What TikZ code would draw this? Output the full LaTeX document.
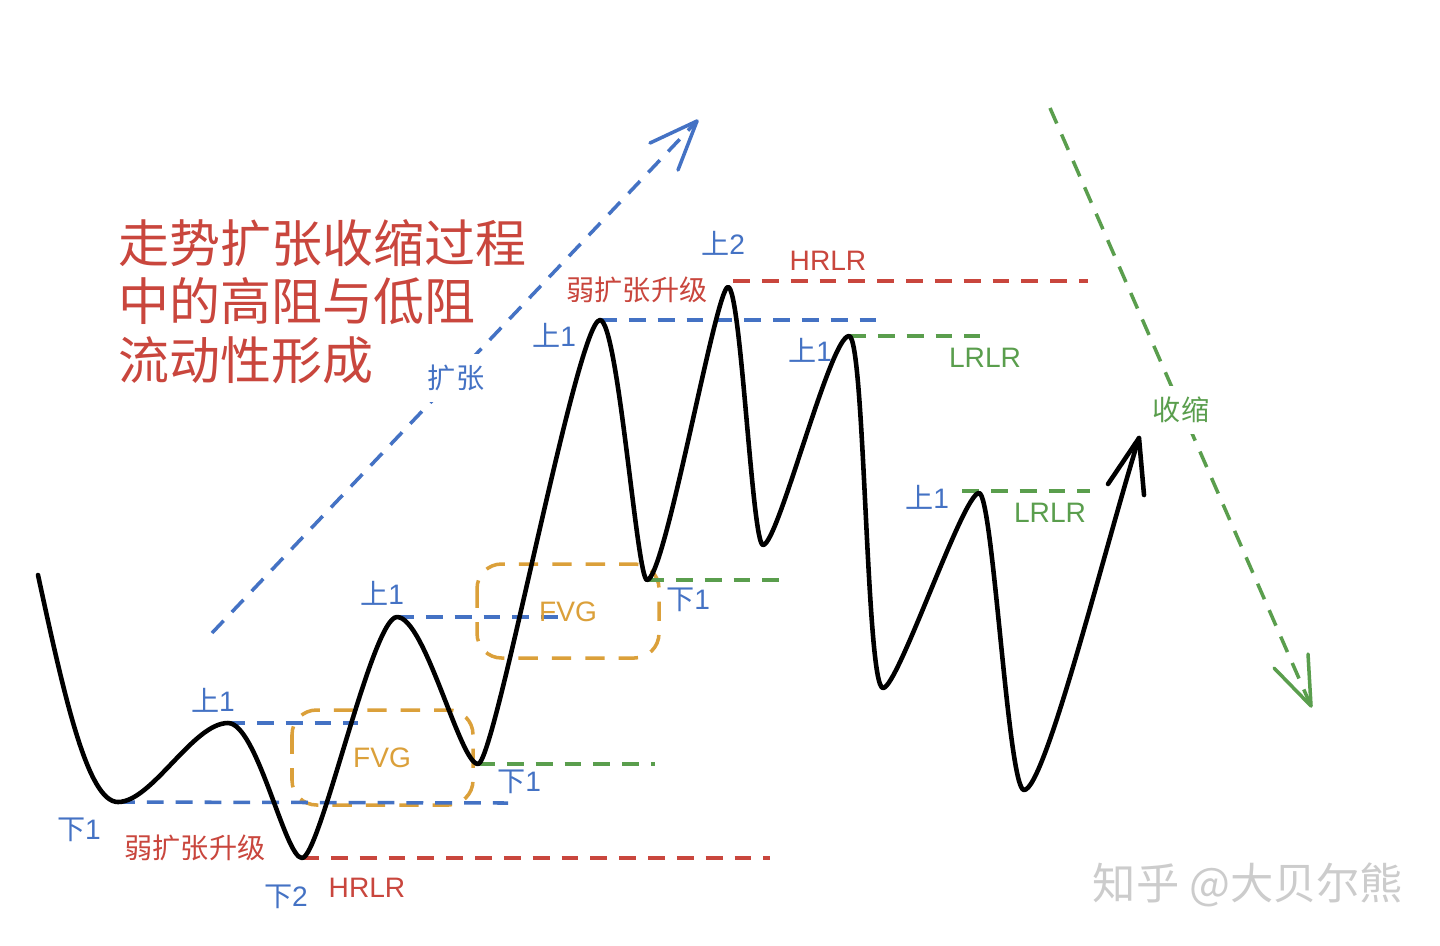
\documentclass[tikz,border=0pt]{standalone}
\usepackage{fontspec}
\setmainfont{Liberation Sans}
\newfontfamily\cjk{Noto Sans CJK SC}
\definecolor{cblue}{HTML}{4472C4}
\definecolor{cred}{HTML}{C9463D}
\definecolor{cgreen}{HTML}{5A9E4D}
\definecolor{corange}{HTML}{DBA03A}
\definecolor{cgray}{HTML}{CCCCCC}
\begin{document}
\begin{tikzpicture}[x=0.01cm,y=-0.01cm,
  curve/.style={line width=1.3pt, black, line cap=round, line join=round},
  dsh/.style={line width=1pt, dash pattern=on 4.8pt off 3.4pt},
  fvgbox/.style={draw=corange, line width=1pt, dash pattern=on 5.5pt off 4pt, rounded corners=7pt},
  lbl/.style={font=\fontsize{8}{9}\selectfont, inner sep=0pt},
  ttl/.style={font=\cjk\fontsize{14.5}{16.5}\selectfont, text=cred, inner sep=0pt, anchor=west}]
\useasboundingbox (0,0) rectangle (1440,945);
\fill[white] (0,0) rectangle (1440,945);
% extrema
\coordinate (S) at (38,575);
\coordinate (T1) at (118,802);
\coordinate (P1) at (228,723);
\coordinate (T2) at (302,858);
\coordinate (P2) at (397,617);
\coordinate (T3) at (478,764);
\coordinate (P3) at (600,320);
\coordinate (T4) at (647,580);
\coordinate (P4) at (728,287);
\coordinate (T5) at (763,545);
\coordinate (P5) at (849,336);
\coordinate (T6) at (883,688);
\coordinate (P6) at (979,493);
\coordinate (T7) at (1024,790);
\coordinate (E) at (1139,438);
% line ends
\coordinate (eT1) at (508,803);
\coordinate (eP1) at (358,723);
\coordinate (eT2) at (770,858);
\coordinate (eP2) at (563,617);
\coordinate (eT3) at (655,764);
\coordinate (eT4) at (788,580);
\coordinate (eP3) at (885,320);
\coordinate (eP4) at (1088,281);
\coordinate (eP5) at (980,336);
\coordinate (eP6) at (1090,491);
% FVG boxes
\draw[fvgbox] (292,710) rectangle (473,805);
\draw[fvgbox] (477,564) rectangle (659,658);
% level lines
\draw[dsh, cblue] (T1) -- (eT1);
\draw[dsh, cblue] (P1) -- (eP1);
\draw[dsh, cred] (T2) -- (eT2);
\draw[dsh, cblue] (P2) -- (eP2);
\draw[dsh, cgreen] (T3) -- (eT3);
\draw[dsh, cgreen] (T4) -- (eT4);
\draw[dsh, cblue] (P3) -- (eP3);
\draw[dsh, cred] (733,281) -- (eP4);
\draw[dsh, cgreen] (P5) -- (eP5);
\draw[dsh, cgreen] (962,491) -- (eP6);
% expansion arrow
\coordinate (xa) at (212,633);
\coordinate (xb) at (697,121);
\draw[dsh, cblue] (xa) -- (xb);
\draw[cblue, line width=1pt, line cap=round, line join=round] (650,143) -- (xb) -- (678,170);
% contraction arrow
\coordinate (ca) at (1050,108);
\coordinate (cb) at (1311,706);
\draw[dsh, cgreen] (ca) -- (cb);
\draw[cgreen, line width=1pt, line cap=round, line join=round] (1274,668) -- (cb) -- (1308,654);
% price curve
\draw[curve] (S) .. controls (65,700) and (88,802) .. (T1)
  .. controls (152,802) and (193,723) .. (P1)
  .. controls (257,723) and (285,858) .. (T2)
  .. controls (320,858) and (372,617) .. (P2)
  .. controls (425,617) and (460,764) .. (T3)
  .. controls (495,764) and (577,320) .. (P3)
  .. controls (618,320) and (637,580) .. (T4)
  .. controls (665,580) and (716,287) .. (P4)
  .. controls (741,287) and (752,545) .. (T5)
  .. controls (778,545) and (830,336) .. (P5)
  .. controls (865,336) and (866,688) .. (T6)
  .. controls (898,688) and (963,493) .. (P6)
  .. controls (993,493) and (1008,790) .. (T7)
  .. controls (1045,790) and (1106,543) .. (E);
\draw[curve] (1108,484) -- (E) -- (1144,495);
% title
\node[ttl] (title1) at (118,243) {走势扩张收缩过程};
\node[ttl] (title2) at (118,301) {中的高阻与低阻};
\node[ttl] (title3) at (118,360) {流动性形成};
% labels
\node[lbl, text=cblue] (lT1) at (79,830) {{\cjk 下}1};
\node[lbl, text=cred] (wk1) at (195,848) {\cjk 弱扩张升级};
\node[lbl, text=cblue] (lT2) at (286,897) {{\cjk 下}2};
\node[lbl, text=cred] (hr1) at (367,888) {HRLR};
\node[lbl, text=cblue] (lP1) at (213,700) {{\cjk 上}1};
\node[lbl, text=corange] (fvg1) at (382,758) {FVG};
\node[lbl, text=cblue] (lP2) at (382,593) {{\cjk 上}1};
\node[lbl, text=cblue] (lT3) at (519,782) {{\cjk 下}1};
\node[lbl, text=corange] (fvg2) at (568,612) {FVG};
\node[lbl, text=cblue] (lT4) at (688,600) {{\cjk 下}1};
\node[lbl, text=cblue] (lP3) at (554,335) {{\cjk 上}1};
\node[lbl, text=cred] (wk2) at (637,290) {\cjk 弱扩张升级};
\node[lbl, text=cblue] (lP4) at (723,243) {{\cjk 上}2};
\node[lbl, text=cred] (hr2) at (828,261) {HRLR};
\node[lbl, text=cblue] (lP5) at (810,350) {{\cjk 上}1};
\node[lbl, text=cgreen] (lr1) at (985,358) {LRLR};
\node[lbl, text=cblue] (lP6) at (927,497) {{\cjk 上}1};
\node[lbl, text=cgreen] (lr2) at (1050,513) {LRLR};
\node[lbl, text=cgreen, fill=white, inner sep=3pt] (shou) at (1181,410) {\cjk 收缩};
\node[lbl, text=cblue, fill=white, inner sep=3pt] (kuo) at (456,378) {\cjk 扩张};
% watermark
\node[font=\cjk\fontsize{12.3}{14}\selectfont, text=cgray, inner sep=0pt] (wm) at (1248,885) {知乎 @大贝尔熊};
\end{tikzpicture}
\end{document}
